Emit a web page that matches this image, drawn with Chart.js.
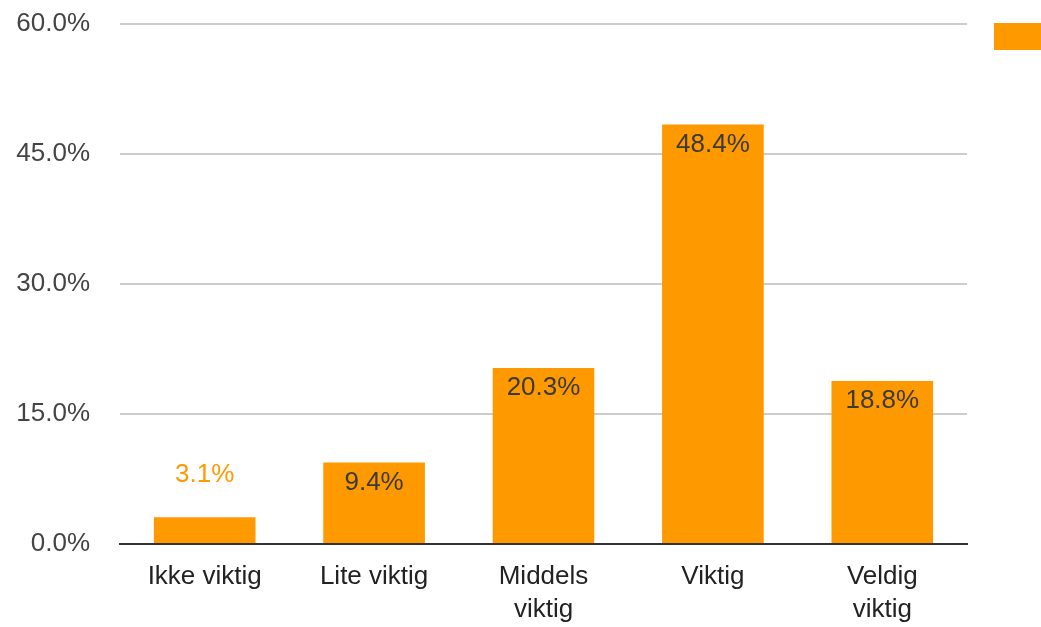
<!DOCTYPE html>
<html>
<head>
<meta charset="utf-8">
<script src="https://cdn.jsdelivr.net/npm/chart.js@4/dist/chart.umd.min.js"></script>
<style>
  html, body { margin: 0; padding: 0; background: #fff; }
  .chart-box { width: 1041px; height: 627px; }
</style>
</head>
<body>
<div class="chart-box"><canvas id="importance-chart"></canvas></div>
<script>
// Data
const categories = ["Ikke viktig", "Lite viktig", ["Middels", "viktig"], "Viktig", ["Veldig", "viktig"]];
const shares = [3.1, 9.4, 20.3, 48.4, 18.8];
const yTicks = [0, 15, 30, 45, 60];
// End Data

const orange = "#FF9900";
const fontFamily = "'Liberation Sans', Arial, sans-serif";

// Value labels on bars
const valueLabels = {
  id: "valueLabels",
  afterDatasetsDraw: (chart) => {
    const ctx = chart.ctx;
    const meta = chart.getDatasetMeta(0);
    ctx.save();
    ctx.font = `26px ${fontFamily}`;
    ctx.textAlign = "center";
    ctx.textBaseline = "middle";
    meta.data.forEach((bar, i) => {
      const text = shares[i].toFixed(1) + "%";
      const barHeight = bar.base - bar.y;
      if (barHeight > 45) {
        ctx.fillStyle = "#3a3a3a";
        ctx.fillText(text, bar.x, bar.y + 20);
      } else {
        ctx.fillStyle = orange;
        ctx.fillText(text, bar.x, bar.y - 42);
      }
    });
    ctx.restore();
  },
};

// Legend swatch (text is cut off at the right edge)
const legendSwatch = {
  id: "legendSwatch",
  afterDraw: (chart) => {
    const ctx = chart.ctx;
    const area = chart.chartArea;
    ctx.save();
    ctx.fillStyle = chart.data.datasets[0].backgroundColor;
    ctx.fillRect(area.right + 27, area.top - 1, 60, 27);
    ctx.restore();
  },
};

const importanceChart = document.querySelector("#importance-chart");
if (importanceChart) {
  new Chart(importanceChart, {
    type: "bar",
    data: {
      labels: categories,
      datasets: [
        {
          label: "",
          data: shares,
          backgroundColor: orange,
          categoryPercentage: 1,
          barPercentage: 0.6,
        },
      ],
    },
    options: {
      maintainAspectRatio: false,
      responsive: true,
      animation: false,
      layout: {
        padding: { top: 24, right: 74, left: 0, bottom: 0 },
      },
      plugins: {
        legend: { display: false },
        tooltip: { enabled: false },
      },
      scales: {
        x: {
          grid: { display: false, drawTicks: false },
          border: { color: "#333", width: 2 },
          ticks: {
            color: "#222",
            padding: 16,
            maxRotation: 0,
            font: { family: fontFamily, size: 26, lineHeight: 1.27 },
          },
          afterFit: (scale) => {
            scale.height = 83;
            scale.paddingLeft = 0;
            scale.paddingRight = 0;
          },
        },
        y: {
          min: 0,
          max: 60,
          afterBuildTicks: (scale) => {
            scale.ticks = yTicks.map((v) => ({ value: v }));
          },
          grid: { color: "#cccccc", lineWidth: 2, drawTicks: false },
          border: { display: false },
          ticks: {
            color: "#444",
            padding: 30,
            font: { family: fontFamily, size: 26 },
            callback: (value) => value.toFixed(1) + "%",
          },
          afterFit: (scale) => {
            scale.width = 120;
            scale.paddingTop = 0;
            scale.paddingBottom = 0;
          },
        },
      },
    },
    plugins: [valueLabels, legendSwatch],
  });
}
</script>
</body>
</html>
